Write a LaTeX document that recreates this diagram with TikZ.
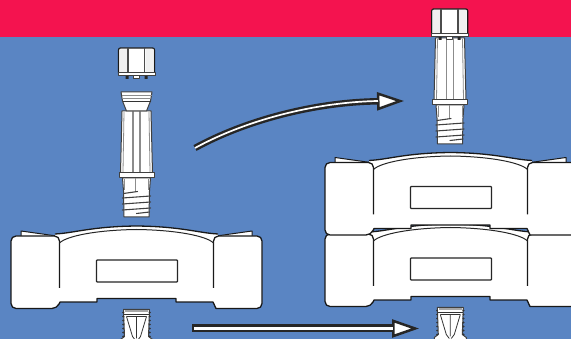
\documentclass[tikz,border=0pt]{standalone}
\usepackage{tikz}
\usetikzlibrary{arrows.meta, positioning}
\definecolor{bandred}{HTML}{F4134F}
\definecolor{bgblue}{HTML}{5A85C3}
\tikzset{
  outline/.style = {draw=black!90, line width=1.3pt, fill=white, line join=round},
  connline/.style = {draw=black!75, line width=1pt, fill=white, line join=round},
  shade/.style = {draw=black!45, line width=1pt},
  thread/.style = {draw=black!75, line width=1.1pt, line cap=round},
  block/.pic = {
    \path[outline, line width=1pt] (-115.5,5) -- (-80,10) -- (-80,20) -- (-115.5,20) -- cycle;
    \path[outline, line width=1pt] (115.5,5) -- (80,10) -- (80,20) -- (115.5,20) -- cycle;
    \fill[white] (-81.5,8) rectangle (81.5,73);
    \path[outline] (-81.5,8) .. controls (-62,7) and (-45,0.5) .. (0,0)
          .. controls (45,0.5) and (62,7) .. (81.5,8);
    \path[outline, rounded corners=5pt] (-77,62) -- (-77,10) -- (-125.5,10) -- (-125.5,82.5)
          -- (-79.5,82.5) [sharp corners] -- (-76.5,76) -- (-39.5,76) -- (-39.5,72.5)
          -- (39.5,72.5) -- (39.5,76) -- (76.5,76) -- (79.5,82.5)
          [rounded corners=5pt] -- (125.5,82.5) -- (125.5,10) -- (77,10) -- (77,62);
    \draw[black!85, line width=1pt] (-77,17) .. controls (-70,10) and (-40,4) .. (0,3.5)
          .. controls (40,4) and (70,10) .. (77,17);
    \draw[black!85, line width=1.2pt, rounded corners=.8pt, fill=white] (-40,34) rectangle (41,56);
  },
  conncap/.pic = {
    \fill[black!85] (-11,27) rectangle (-8,31) (8,27) rectangle (11,31);
    \path[connline] (-3,27) rectangle (3,31);
    \path[outline, rounded corners=2pt] (-18,25.5) -- (-18,0) -- (18,0) -- (18,25.5);
    \fill[black!6] (-17,1) rectangle (-9.5,25) (9,1) rectangle (17,25);
    \draw[shade, draw=black!70, line width=1.6pt] (-8.5,.5) -- (-8.5,25) (8,.5) -- (8,25);
    \path[connline] (-18.5,25) rectangle (18.5,27.5);
  },
  conncollar/.pic = {
    \path[connline] (-15.5,0) -- (15.5,0) -- (14,9) -- (10,19) -- (-10,19) -- (-14,9) -- cycle;
    \draw[shade, line width=.8pt] (-15,3) -- (15,3) (-14.5,6) -- (14.5,6);
    \draw[black!80, line width=.8pt] (-14,9) -- (14,9);
  },
  connbody/.pic = {
    \path[connline] (-14.5,0) -- (14.5,0) -- (16,62) -- (-16,62) -- cycle;
    \draw[shade, line width=1.3pt] (-3.5,0) -- (-3.5,62) (3.5,0) -- (3.5,62);
    \draw[shade, line width=.8pt] (-12.5,1) -- (-13.5,61) (12.5,1) -- (13.5,61);
    \path[connline] (-14,67) -- (14,67) -- (13,80) -- (12.5,106) -- (-12.5,106) -- (-13,80) -- cycle;
    \draw[shade] (-12,68) -- (-12,79) (12,68) -- (12,79) (-1,67) -- (-1,81);
    \path[connline] (-17.5,62) rectangle (17.5,67);
    \draw[thread] (-13,82.5) -- (1,80.5);
    \foreach \ypos in {87,93,99} {
      \draw[thread] (-14,\ypos) -- (14,\ypos-2);
    }
    \draw[thread] (0,102.5) -- (13,101);
  },
  conntip/.pic = {
    \path[connline] (-16,33) -- (-16,30) -- (-12,27) -- (-13,0) -- (13,0) -- (12,27) -- (16,30) -- (16,33) -- cycle;
    \fill[black!35] (-11.5,.5) rectangle (11.5,3);
    \draw[black!80, line width=.8pt] (-12.5,4.5) -- (12.5,4.5);
    \draw[black!80, line width=.8pt] (-10,7) -- (-4,27) -- (-1,31) (10,7) -- (4,27) -- (1,31) (0,7) -- (0,29) (-10,7) -- (10,7);
    \foreach \ypos in {3,7,...,27} {
      \fill[black!80] (-13.2,\ypos) circle (1.1pt) (13.2,\ypos) circle (1.1pt);
    }
  },
  arrowout/.style = {draw=black!85, line width=#1},
  arrowin/.style = {draw=white, line width=#1}
}
\begin{document}
\begin{tikzpicture}[x=1pt, y=-1pt]
  \useasboundingbox (0,0) rectangle (571,339);
  \clip (0,0) rectangle (571,339);
  \fill[bgblue] (0,0) rectangle (571,339);
  \fill[bandred] (0,0) rectangle (571,37.5);

  % left column
  \pic at (136.5,309.5) {conntip};
  \pic at (136.5,226) {block};
  \pic at (136.5,111) {connbody};
  \pic at (136.5,92) {conncollar};
  \pic at (136.5,48) {conncap};

  % right column
  \pic at (450.3,307.5) {conntip};
  \pic at (450.5,224) {block};
  \pic at (450.5,152.5) {block};
  \pic at (450,38) {connbody};
  \pic at (449.7,9) {conncap};

  % arrows
  \coordinate (curvestart) at (195,148);
  \coordinate (curveend)   at (404,101);
  \coordinate (curvebase)  at (378,101);
  \coordinate (linestart)  at (192,328.5);
  \coordinate (lineend)    at (419,328.5);
  \coordinate (linebase)   at (393,328.5);
  \draw[arrowout=6.5pt, -{Triangle[line width=2.5pt, fill=white, length=27pt, width=18pt]}]
        (curvestart) .. controls (250,118) and (320,102) .. (curveend);
  \draw[arrowin=1.7pt] (curvestart) .. controls (250,118) and (320,102) .. (curvebase);
  \draw[arrowout=8pt, -{Triangle[line width=2.5pt, fill=white, length=27pt, width=18pt]}]
        (linestart) -- (lineend);
  \draw[arrowin=2.8pt] ([xshift=2pt]linestart) -- (linebase);
\end{tikzpicture}
\end{document}
